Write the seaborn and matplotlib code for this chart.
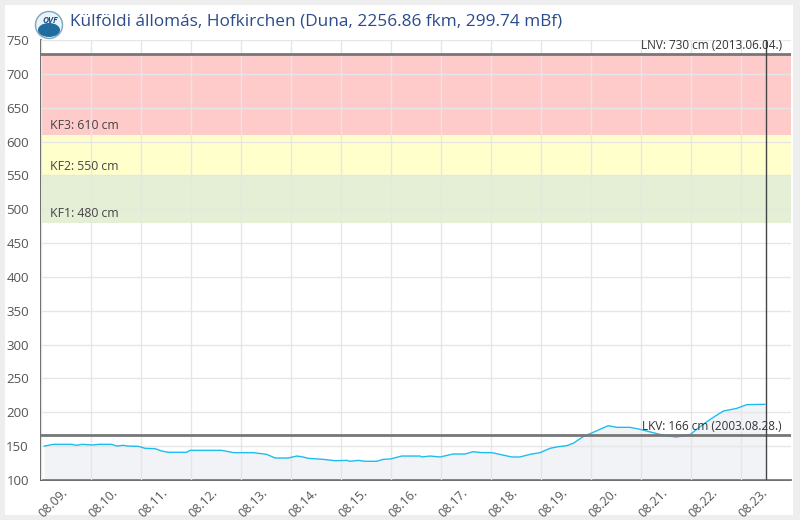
import matplotlib.pyplot as plt
import matplotlib.transforms as mtransforms
import pandas as pd
import seaborn as sns
from matplotlib.patches import Rectangle, Ellipse

sns.set_style("white")
plt.rcParams["font.family"] = ["Open Sans", "DejaVu Sans"]

title = "Külföldi állomás, Hofkirchen (Duna, 2256.86 fkm, 299.74 mBf)"

# hours since 08.09. 00:00 and water level in cm
hours = [1.6, 6.1, 14.9, 17.3, 19.7, 25.2, 27.7, 34.1, 36.5, 39.7, 41.6, 46.9,
         50.1, 54.9, 58.1, 61.3, 70.1, 71.7, 86.9, 92.5, 102.0, 108.5, 112.5,
         118.8, 122.9, 125.3, 128.5, 135.6, 141.3, 146.9, 148.5, 152.5, 155.7,
         161.3, 164.4, 167.7, 173.3, 182.1, 182.9, 186.9, 191.7, 198.0, 203.7,
         207.6, 211.7, 216.5, 219.6, 226.1, 230.0, 234.9, 239.7, 244.5, 248.5,
         252.5, 255.6, 260.4, 265.2, 272.4, 276.5, 282.9, 287.7, 294.0, 299.7,
         305.3, 311.7, 316.5, 322.1, 327.7, 334.1, 338.9, 347.7]
levels = [150, 152.7, 152.7, 151.2, 152.7, 151.7, 152.7, 152.7, 150.2, 151.2,
          150.2, 149.7, 146.8, 146.3, 142.8, 140.9, 140.9, 143.8, 143.8, 140.4,
          140.4, 137.9, 132.5, 132.5, 135.4, 134.4, 132.0, 130.5, 128.5, 129.0,
          127.6, 129.0, 127.6, 127.6, 130.5, 131.0, 135.4, 135.4, 134.0, 135.4,
          134.0, 138.4, 138.4, 141.8, 140.4, 140.4, 138.4, 134.0, 134.0, 137.9,
          140.4, 146.8, 149.2, 150.7, 154.2, 164.0, 170.4, 180.2, 177.8, 177.8,
          174.8, 169.9, 165.5, 163.5, 167.0, 178.8, 191.1, 201.9, 205.8, 211.3,
          211.8]

day_labels = ["08.09.", "08.10.", "08.11.", "08.12.", "08.13.", "08.14.", "08.15.",
              "08.16.", "08.17.", "08.18.", "08.19.", "08.20.", "08.21.", "08.22.",
              "08.23."]

# alert levels
kf1, kf2, kf3 = 480, 550, 610
lnv, lkv = 730, 166
lnv_text = "LNV: 730 cm (2013.06.04.)"
lkv_text = "LKV: 166 cm (2003.08.28.)"

start = pd.Timestamp("2024-08-09")
times = start + pd.to_timedelta(hours, unit="h")
df = pd.DataFrame({"time": times, "level": levels})
ticks = [start + pd.Timedelta(days=i) for i in range(len(day_labels))]
now = start + pd.Timedelta(days=14.5)

fig = plt.figure(figsize=(8, 5.2), dpi=100)
fig.patch.set_facecolor("#eeeeee")
fig.patches.append(Rectangle((5 / 800, 5 / 520), 788 / 800, 510 / 520,
                             transform=fig.transFigure, facecolor="white",
                             edgecolor="none", zorder=-10))

ax = fig.add_axes([40.7 / 800, 40 / 520, 750 / 800, 440 / 520])
ax.set_facecolor("white")

ax.axhspan(kf1, kf2, color="#e4efd5", lw=0, zorder=0.5)
ax.axhspan(kf2, kf3, color="#ffffcc", lw=0, zorder=0.5)
ax.axhspan(kf3, lnv, color="#ffcaca", lw=0, zorder=0.5)

ax.fill_between(df["time"], 100, df["level"], color="#f2f3f7", lw=0, zorder=1)
sns.lineplot(data=df, x="time", y="level", ax=ax, color="#1cbdf0", linewidth=1,
             zorder=3)

ax.axhline(lnv, color="#777777", lw=2, zorder=4)
ax.axhline(lkv, color="#777777", lw=2, zorder=4)
ax.axvline(now, color="#444444", lw=1, zorder=5)

lab_x = start + pd.Timedelta(hours=4.5)
for val, name in [(kf3, "KF3"), (kf2, "KF2"), (kf1, "KF1")]:
    ax.text(lab_x, val + 4, f"{name}: {val} cm", fontsize=8.8, color="#444444",
            va="bottom", ha="left", zorder=6)
right_x = start + pd.Timedelta(days=14.5, hours=7.8)
ax.text(right_x, lnv + 3, lnv_text, fontsize=8.5, color="#333333",
        ha="right", va="bottom", zorder=6)
ax.text(right_x, lkv + 3, lkv_text, fontsize=8.5, color="#333333",
        ha="right", va="bottom", zorder=6)

ax.set_xlim(start, start + pd.Timedelta(days=15))
ax.set_ylim(100, 750)
ax.set_yticks(range(100, 751, 50))
ax.set_xticks(ticks)
ax.set_xticklabels([])
ax.set_xlabel("")
ax.set_ylabel("")

# rotated day labels, shifted right of the tick like the original
lab_trans = mtransforms.blended_transform_factory(ax.transData, ax.transAxes) + \
    mtransforms.ScaledTranslation(0.2, -0.065, fig.dpi_scale_trans)
for t, lbl in zip(ticks, day_labels):
    ax.text(t, 0, lbl, transform=lab_trans, rotation=45, ha="right", va="top",
            rotation_mode="anchor", fontsize=9, color="#555555", clip_on=False)

ax.grid(True, color="#e6e6e6", lw=1)
ax.set_axisbelow(False)
for gl in ax.get_xgridlines() + ax.get_ygridlines():
    gl.set_zorder(0.8)
ax.tick_params(axis="both", colors="#555555", labelsize=9.5, length=5, width=1,
               direction="out", labelcolor="#555555")
for side in ["top", "right"]:
    ax.spines[side].set_visible(False)
for side in ["left", "bottom"]:
    ax.spines[side].set_color("#555555")
    ax.spines[side].set_linewidth(1.2)

# title with a small round logo
cx, cy = 49 / 800, 1 - 25 / 520
fig.patches.append(Ellipse((cx, cy), 27 / 800, 27 / 520, transform=fig.transFigure,
                           facecolor="#eaf4f8", edgecolor="#7fa6bd", lw=1,
                           zorder=2))
fig.patches.append(Ellipse((cx, cy - 5 / 520), 22 / 800, 14 / 520,
                           transform=fig.transFigure, facecolor="#1f6d9e",
                           edgecolor="none", zorder=3))
fig.text(cx + 1 / 800, cy + 5 / 520, "OVF", fontsize=6, color="#1b4f86",
         ha="center", va="center", fontweight="bold", style="italic")
fig.text(70 / 800, 1 - 21 / 520, title, fontsize=12.4, color="#2b4c8c",
         ha="left", va="center")

fig.savefig("out.png", dpi=100, facecolor=fig.get_facecolor())
